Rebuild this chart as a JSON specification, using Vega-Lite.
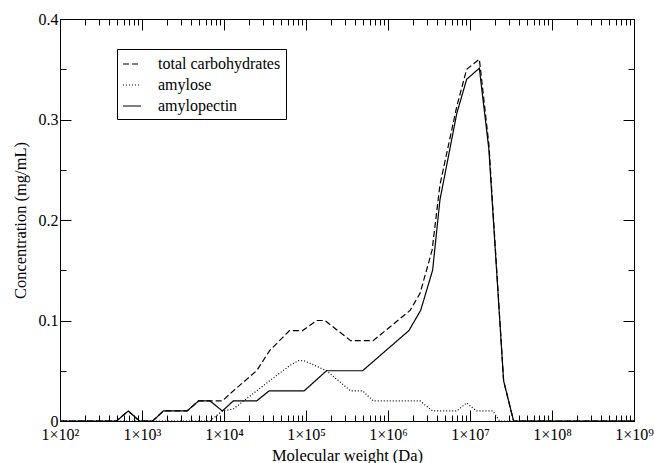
{
  "$schema": "https://vega.github.io/schema/vega-lite/v6.json",
  "width": 574,
  "height": 402,
  "autosize": "none",
  "padding": {"left": 60, "top": 19, "right": 20, "bottom": 42},
  "background": "white",
  "config": {
    "view": {"stroke": "black", "strokeWidth": 1},
    "font": "Liberation Serif",
    "axis": {
      "domainColor": "black", "tickColor": "black", "labelColor": "black", "titleColor": "black",
      "grid": false, "labelFont": "Liberation Serif", "titleFont": "Liberation Serif",
      "titleFontWeight": "normal", "labelFontSize": 16, "titleFontSize": 16.5,
      "ticks": true, "tickWidth": 1, "domainWidth": 1
    },
    "legend": {"labelFont": "Liberation Serif"}
  },
  "data": {"values": [
    {"series": "amylopectin", "mw": 100, "conc": 0},
    {"series": "amylopectin", "mw": 490, "conc": 0},
    {"series": "amylopectin", "mw": 680, "conc": 0.01},
    {"series": "amylopectin", "mw": 930, "conc": 0},
    {"series": "amylopectin", "mw": 1350, "conc": 0},
    {"series": "amylopectin", "mw": 1820, "conc": 0.01},
    {"series": "amylopectin", "mw": 3550, "conc": 0.01},
    {"series": "amylopectin", "mw": 4900, "conc": 0.02},
    {"series": "amylopectin", "mw": 6750, "conc": 0.02},
    {"series": "amylopectin", "mw": 9550, "conc": 0.01},
    {"series": "amylopectin", "mw": 13000, "conc": 0.02},
    {"series": "amylopectin", "mw": 25000, "conc": 0.02},
    {"series": "amylopectin", "mw": 35500, "conc": 0.03},
    {"series": "amylopectin", "mw": 95000, "conc": 0.03},
    {"series": "amylopectin", "mw": 178000, "conc": 0.05},
    {"series": "amylopectin", "mw": 490000, "conc": 0.05},
    {"series": "amylopectin", "mw": 1800000, "conc": 0.09},
    {"series": "amylopectin", "mw": 2500000, "conc": 0.11},
    {"series": "amylopectin", "mw": 3500000, "conc": 0.15},
    {"series": "amylopectin", "mw": 4300000, "conc": 0.22},
    {"series": "amylopectin", "mw": 6900000, "conc": 0.306},
    {"series": "amylopectin", "mw": 9100000, "conc": 0.34},
    {"series": "amylopectin", "mw": 13000000, "conc": 0.351},
    {"series": "amylopectin", "mw": 17000000, "conc": 0.27},
    {"series": "amylopectin", "mw": 25700000, "conc": 0.04},
    {"series": "amylopectin", "mw": 34000000, "conc": 0},
    {"series": "amylopectin", "mw": 1000000000, "conc": 0},
    {"series": "total carbohydrates", "mw": 100, "conc": 0},
    {"series": "total carbohydrates", "mw": 490, "conc": 0},
    {"series": "total carbohydrates", "mw": 680, "conc": 0.01},
    {"series": "total carbohydrates", "mw": 930, "conc": 0},
    {"series": "total carbohydrates", "mw": 1350, "conc": 0},
    {"series": "total carbohydrates", "mw": 1820, "conc": 0.01},
    {"series": "total carbohydrates", "mw": 3550, "conc": 0.01},
    {"series": "total carbohydrates", "mw": 4900, "conc": 0.02},
    {"series": "total carbohydrates", "mw": 6750, "conc": 0.02},
    {"series": "total carbohydrates", "mw": 9550, "conc": 0.02},
    {"series": "total carbohydrates", "mw": 13000, "conc": 0.03},
    {"series": "total carbohydrates", "mw": 25000, "conc": 0.05},
    {"series": "total carbohydrates", "mw": 36000, "conc": 0.07},
    {"series": "total carbohydrates", "mw": 63000, "conc": 0.09},
    {"series": "total carbohydrates", "mw": 91000, "conc": 0.09},
    {"series": "total carbohydrates", "mw": 135000, "conc": 0.1},
    {"series": "total carbohydrates", "mw": 170000, "conc": 0.1},
    {"series": "total carbohydrates", "mw": 350000, "conc": 0.08},
    {"series": "total carbohydrates", "mw": 660000, "conc": 0.08},
    {"series": "total carbohydrates", "mw": 1860000, "conc": 0.11},
    {"series": "total carbohydrates", "mw": 2460000, "conc": 0.127},
    {"series": "total carbohydrates", "mw": 3450000, "conc": 0.17},
    {"series": "total carbohydrates", "mw": 4300000, "conc": 0.235},
    {"series": "total carbohydrates", "mw": 6900000, "conc": 0.313},
    {"series": "total carbohydrates", "mw": 9100000, "conc": 0.35},
    {"series": "total carbohydrates", "mw": 13000000, "conc": 0.36},
    {"series": "total carbohydrates", "mw": 17000000, "conc": 0.275},
    {"series": "total carbohydrates", "mw": 25700000, "conc": 0.04},
    {"series": "total carbohydrates", "mw": 34000000, "conc": 0},
    {"series": "total carbohydrates", "mw": 1000000000, "conc": 0},
    {"series": "amylose", "mw": 100, "conc": 0},
    {"series": "amylose", "mw": 6750, "conc": 0},
    {"series": "amylose", "mw": 9550, "conc": 0.01},
    {"series": "amylose", "mw": 13000, "conc": 0.012},
    {"series": "amylose", "mw": 25000, "conc": 0.03},
    {"series": "amylose", "mw": 36000, "conc": 0.04},
    {"series": "amylose", "mw": 63000, "conc": 0.055},
    {"series": "amylose", "mw": 80000, "conc": 0.06},
    {"series": "amylose", "mw": 95000, "conc": 0.06},
    {"series": "amylose", "mw": 178000, "conc": 0.05},
    {"series": "amylose", "mw": 350000, "conc": 0.03},
    {"series": "amylose", "mw": 490000, "conc": 0.03},
    {"series": "amylose", "mw": 660000, "conc": 0.02},
    {"series": "amylose", "mw": 1800000, "conc": 0.02},
    {"series": "amylose", "mw": 2460000, "conc": 0.02},
    {"series": "amylose", "mw": 3500000, "conc": 0.01},
    {"series": "amylose", "mw": 6900000, "conc": 0.01},
    {"series": "amylose", "mw": 9100000, "conc": 0.018},
    {"series": "amylose", "mw": 12000000, "conc": 0.01},
    {"series": "amylose", "mw": 19000000, "conc": 0.01},
    {"series": "amylose", "mw": 23000000, "conc": 0},
    {"series": "amylose", "mw": 1000000000, "conc": 0}
  ]},
  "layer": [
    {
      "mark": {"type": "line", "color": "black", "strokeWidth": 1.2},
      "encoding": {
        "x": {
          "field": "mw", "type": "quantitative",
          "scale": {"type": "log", "domain": [100, 1000000000], "nice": false},
          "axis": {
            "orient": "bottom",
            "values": [100,200,300,400,500,600,700,800,900,1000,2000,3000,4000,5000,6000,7000,8000,9000,10000,20000,30000,40000,50000,60000,70000,80000,90000,100000,200000,300000,400000,500000,600000,700000,800000,900000,1000000,2000000,3000000,4000000,5000000,6000000,7000000,8000000,9000000,10000000,20000000,30000000,40000000,50000000,60000000,70000000,80000000,90000000,100000000,200000000,300000000,400000000,500000000,600000000,700000000,800000000,900000000,1000000000],
            "labelExpr": "abs(log(datum.value)/LN10 - round(log(datum.value)/LN10)) < 0.000001 ? '1×10' + ['⁰','¹','²','³','⁴','⁵','⁶','⁷','⁸','⁹'][round(log(datum.value)/LN10)] : ''",
            "labelFlush": false, "labelOverlap": false, "labelPadding": 16,
            "tickSize": {"condition": {"test": "abs(log(datum.value)/LN10 - round(log(datum.value)/LN10)) < 0.000001", "value": -11}, "value": -6},
            "title": "Molecular weight (Da)", "titleY": 39, "titleBaseline": "alphabetic"
          }
        },
        "y": {
          "field": "conc", "type": "quantitative",
          "scale": {"domain": [0, 0.4], "nice": false},
          "axis": {
            "orient": "left",
            "values": [0, 0.05, 0.1, 0.15, 0.2, 0.25, 0.3, 0.35, 0.4],
            "labelExpr": "abs(datum.value*10 - round(datum.value*10)) < 0.000001 ? format(datum.value, '~g') : ''",
            "labelOverlap": false, "labelPadding": 13, "labelFlush": false,
            "tickSize": {"condition": {"test": "abs(datum.value*10 - round(datum.value*10)) < 0.000001", "value": -11}, "value": -6},
            "title": "Concentration (mg/mL)", "titleX": -35, "titleBaseline": "alphabetic"
          }
        },
        "strokeDash": {
          "field": "series", "type": "nominal",
          "scale": {"domain": ["total carbohydrates", "amylose", "amylopectin"], "range": [[6, 3], [1, 2], [1, 0]]},
          "legend": {
            "orient": "none", "legendX": 57, "legendY": 30, "title": null,
            "strokeColor": "black", "fillColor": "white", "padding": 5,
            "symbolType": "stroke", "symbolSize": 324, "symbolStrokeWidth": 1.2, "symbolStrokeColor": "black",
            "labelFont": "Liberation Serif", "labelFontSize": 16, "labelColor": "black",
            "labelOffset": 16, "rowPadding": 3, "labelLimit": 300
          }
        }
      }
    },
    {
      "mark": {"type": "line", "opacity": 0},
      "encoding": {
        "x": {
          "field": "mw", "type": "quantitative",
          "axis": {
            "orient": "top",
            "values": [100,200,300,400,500,600,700,800,900,1000,2000,3000,4000,5000,6000,7000,8000,9000,10000,20000,30000,40000,50000,60000,70000,80000,90000,100000,200000,300000,400000,500000,600000,700000,800000,900000,1000000,2000000,3000000,4000000,5000000,6000000,7000000,8000000,9000000,10000000,20000000,30000000,40000000,50000000,60000000,70000000,80000000,90000000,100000000,200000000,300000000,400000000,500000000,600000000,700000000,800000000,900000000,1000000000],
            "labels": false, "title": null,
            "tickSize": {"condition": {"test": "abs(log(datum.value)/LN10 - round(log(datum.value)/LN10)) < 0.000001", "value": -11}, "value": -6}
          }
        },
        "y": {
          "field": "conc", "type": "quantitative",
          "axis": {
            "orient": "right",
            "values": [0, 0.05, 0.1, 0.15, 0.2, 0.25, 0.3, 0.35, 0.4],
            "labels": false, "title": null,
            "tickSize": {"condition": {"test": "abs(datum.value*10 - round(datum.value*10)) < 0.000001", "value": -11}, "value": -6}
          }
        },
        "detail": {"field": "series", "type": "nominal"}
      }
    }
  ],
  "resolve": {"axis": {"x": "independent", "y": "independent"}}
}
